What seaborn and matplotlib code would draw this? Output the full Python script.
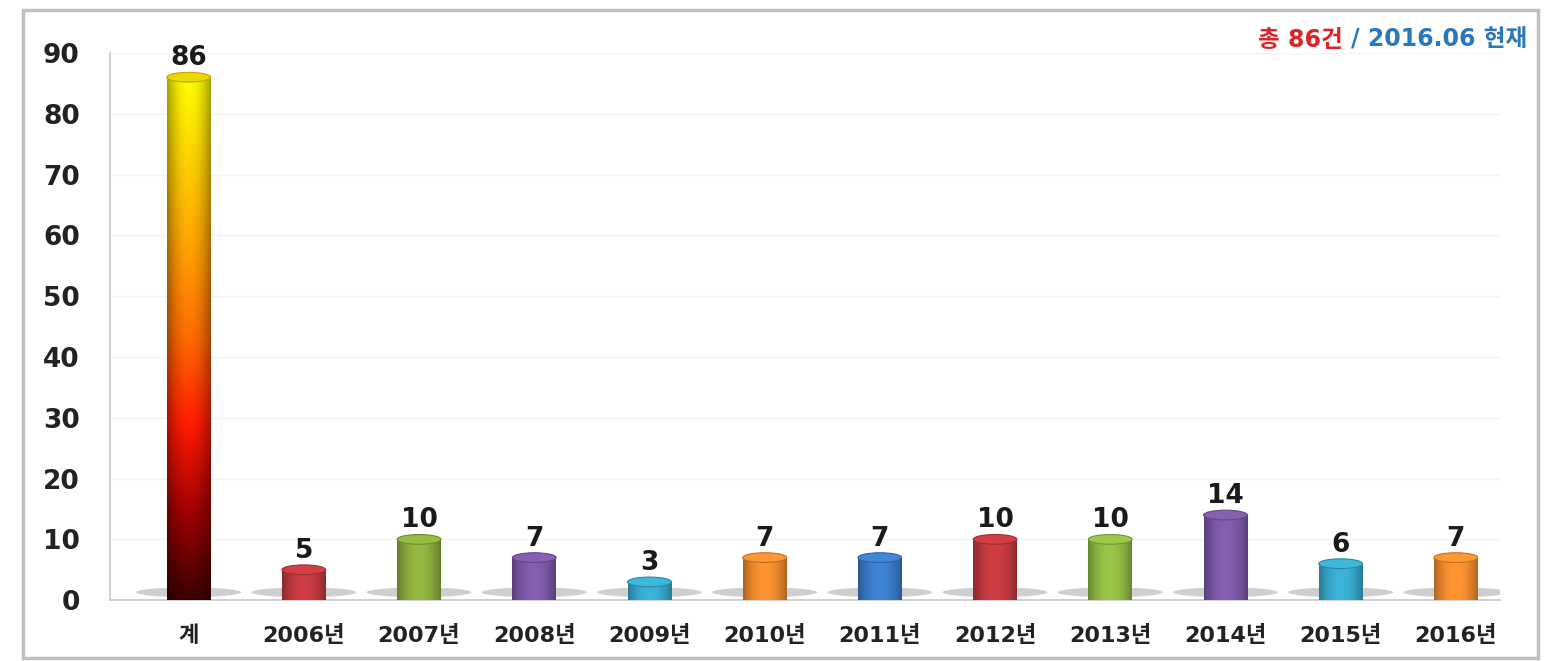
import numpy as np
import pandas as pd
import matplotlib
matplotlib.use("Agg")
import matplotlib.pyplot as plt
import seaborn as sns
from matplotlib.colors import LinearSegmentedColormap
from matplotlib.patches import Rectangle, Ellipse

categories = ["계", "2006년", "2007년", "2008년", "2009년", "2010년", "2011년",
              "2012년", "2013년", "2014년", "2015년", "2016년"]
values = [86, 5, 10, 7, 3, 7, 7, 10, 10, 14, 6, 7]
bar_colors = ["#f5a000", "#c0393f", "#8aab3c", "#7a58a3", "#37a7c9", "#ec8a2e",
              "#3a7bc6", "#c0393f", "#8fb843", "#7a58a3", "#37a7c9", "#ef8b2f"]
y_ticks = [0, 10, 20, 30, 40, 50, 60, 70, 80, 90]

sns.set_theme(style="white")
plt.rcParams['font.family'] = ['DejaVu Sans', 'Noto Sans CJK KR']

fig = plt.figure(figsize=(15.54, 6.61), dpi=100)
ax = fig.add_axes([0.071, 0.092, 0.894, 0.828])

df = pd.DataFrame({"cat": categories, "val": values})
sns.barplot(data=df, x="cat", y="val", hue="cat", palette=bar_colors,
            legend=False, width=0.38, ax=ax, saturation=1, edgecolor="none")

bars = list(ax.patches)

# floor shadows under bars
for p in bars:
    xx, ww = p.get_x(), p.get_width()
    ax.add_patch(Ellipse((xx + ww / 2, 1.3), ww * 2.4, 1.6, facecolor="#a8a8a8",
                         edgecolor="none", alpha=0.55, zorder=1.5))

# gradient for total bar
cmap = LinearSegmentedColormap.from_list(
    "tot", ["#3a0000", "#a00000", "#ff1a00", "#ff6a00", "#ffa000", "#ffd000", "#ffff00"])
p0 = bars[0]
x0, w, h = p0.get_x(), p0.get_width(), p0.get_height()
grad = np.linspace(0, 1, 256).reshape(-1, 1)
shade = 1 - 0.35 * np.abs(np.linspace(-1, 1, 64)) ** 2
img = cmap(np.repeat(grad, 64, axis=1))
img[..., :3] *= shade[None, :, None]
im = ax.imshow(img, extent=[x0, x0 + w, 0, h], origin="lower", aspect="auto", zorder=3)
im.set_clip_path(p0)
ax.add_patch(Ellipse((x0 + w / 2, h), w, 1.6, facecolor="#e8d800", edgecolor="#c8a000",
                     linewidth=0.8, zorder=4))

# cylinder-like shading on other bars
for p in bars[1:]:
    xx, ww, hh = p.get_x(), p.get_width(), p.get_height()
    base = np.array(matplotlib.colors.to_rgb(p.get_facecolor()))
    t = np.linspace(-1, 1, 64)
    f = 1.08 - 0.35 * t ** 2
    row = np.clip(base[None, :] * f[:, None], 0, 1)
    im2 = ax.imshow(row[None, :, :], extent=[xx, xx + ww, 0, hh], origin="lower",
                    aspect="auto", zorder=3)
    im2.set_clip_path(p)
    ax.add_patch(Ellipse((xx + ww / 2, hh), ww, 1.6,
                         facecolor=np.clip(base * 1.1, 0, 1), edgecolor=base * 0.8,
                         linewidth=0.8, zorder=4))

for i, v in enumerate(values):
    ax.text(i, v + 1.0, str(v), ha="center", va="bottom", fontsize=19,
            fontweight="bold", color="#1a1a1a", zorder=5)

ax.set_xlim(-0.68, 11.38)
ax.set_ylim(0, 90)
ax.set_yticks(y_ticks)
ax.set_yticklabels([str(t) for t in y_ticks], fontsize=19, fontweight="bold", color="#222222")
ax.set_xticks(range(len(categories)))
ax.set_xticklabels(categories, fontsize=16, fontweight="bold", color="#222222")
ax.set_xticks(np.arange(-0.5, 11.5, 1.0)[1:], minor=True)
ax.tick_params(axis="x", which="major", length=0, pad=18)
ax.tick_params(axis="x", which="minor", length=5, color="#bbbbbb", width=1, direction="out")
ax.tick_params(axis="y", length=6, color="#bbbbbb", width=1, pad=16, direction="out")
ax.set_xlabel("")
ax.set_ylabel("")
ax.grid(axis="y", color="#f3f3f3", linewidth=1)
ax.set_axisbelow(True)
for s in ["top", "right"]:
    ax.spines[s].set_visible(False)
for s in ["left", "bottom"]:
    ax.spines[s].set_color("#c8c8c8")
    ax.spines[s].set_linewidth(1.2)

t2 = fig.text(1527 / 1554, 0.94, "/ 2016.06 현재", color="#2a78b8", fontsize=17,
              fontweight="bold", ha="right", va="center")
ax.annotate("총 86건 ", xy=(0, 0.5), xycoords=t2, ha="right", va="center",
            color="#d9262b", fontsize=17, fontweight="bold", annotation_clip=False)

# outer frame
fig.patches.append(Rectangle((0.015, 0.005), 0.975, 0.98, transform=fig.transFigure,
                             fill=False, edgecolor="#c0c0c0", linewidth=2.5))

fig.savefig("out.png", dpi=100)
